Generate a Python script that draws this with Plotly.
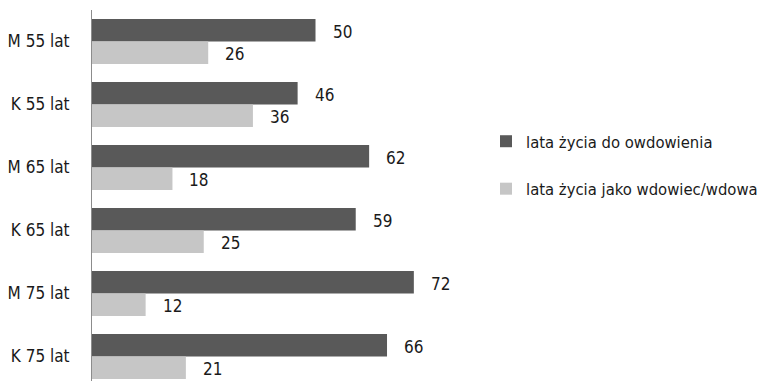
import plotly.graph_objects as go

categories = ["M 55 lat", "K 55 lat", "M 65 lat", "K 65 lat", "M 75 lat", "K 75 lat"]
years_before = [50, 46, 62, 59, 72, 66]
years_widowed = [26, 36, 18, 25, 12, 21]
series_names = ["lata życia do owdowienia", "lata życia jako wdowiec/wdowa"]
colors = ["#595959", "#c6c6c6"]

FONT = "Liberation Sans Narrow, DejaVu Sans Condensed, Arial Narrow, sans-serif"

fig = go.Figure()
for i, (name, vals, col) in enumerate(zip(series_names, [years_before, years_widowed], colors)):
    fig.add_trace(go.Bar(
        y=categories, x=vals, orientation="h", name=name,
        marker=dict(color=col, line=dict(width=0)),
        hoverinfo="skip", legendgroup=f"g{i}",
    ))

annotations = []
for vals, shift in [(years_before, 10), (years_widowed, -12)]:
    for c, v in zip(categories, vals):
        annotations.append(dict(
            x=v, y=c, xref="x", yref="y", text=str(v), showarrow=False,
            xanchor="left", yanchor="middle", xshift=15, yshift=shift,
            font=dict(family=FONT, size=17, color="#1a1a1a"),
        ))

PW = 764 - 92  # paper width after left margin
fig.update_layout(
    width=764, height=381,
    margin=dict(l=92, r=0, t=10, b=0, autoexpand=False),
    paper_bgcolor="white", plot_bgcolor="white",
    barmode="group", bargap=0.286, bargroupgap=0,
    font=dict(family=FONT, size=17, color="#1a1a1a"),
    showlegend=True,
    legend=dict(
        x=(486 - 92) / PW, y=1 - (165 - 10) / 371, xanchor="left", yanchor="middle",
        traceorder="grouped", tracegroupgap=23,
        font=dict(family=FONT, size=16.5, color="#1a1a1a"),
        bgcolor="rgba(0,0,0,0)",
    ),
    annotations=annotations,
)
fig.update_xaxes(domain=[0, 368 / PW], range=[0, 368 / 4.47], visible=False, fixedrange=True)
fig.update_yaxes(
    type="category", categoryorder="array", categoryarray=categories,
    range=[-0.5 + 371 / 63, -0.5],
    showline=True, linecolor="#8c8c8c", linewidth=1,
    ticks="", ticklabelstandoff=18, showgrid=False, zeroline=False,
    tickfont=dict(family=FONT, size=17, color="#1a1a1a"),
)

fig.write_html("out.html")
